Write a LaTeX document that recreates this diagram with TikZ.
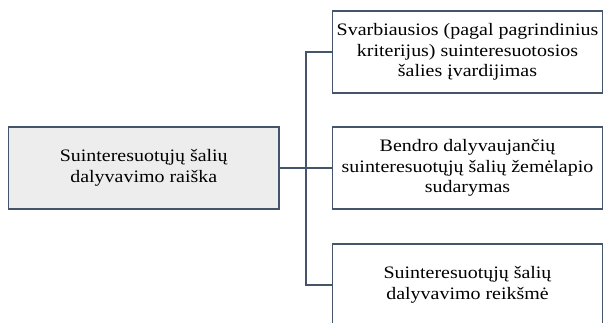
\documentclass[tikz,border=0pt]{standalone}
\usepackage{fontspec}
\setmainfont{Liberation Serif}[FakeStretch=1.14]
\definecolor{edge}{HTML}{44546A}
\definecolor{shade}{HTML}{EDEDED}
\newcommand{\boxfont}{\fontsize{17.5pt}{20.5pt}\selectfont}
\begin{document}
\begin{tikzpicture}[x=1pt,y=-1pt,
  box/.style={draw=edge, line width=1.4pt, rectangle, align=center,
    minimum width=269.5pt, minimum height=82pt, inner sep=1pt,
    font=\boxfont},
  link/.style={draw=edge, line width=1.4pt}]
  \useasboundingbox (0,0) rectangle (603,322);
  \clip (0,0) rectangle (603,322);
  % main topic on the left
  \node[box, fill=shade, minimum width=270.5pt] (L) at (143.75,168) {Suinteresuotųjų šalių\\dalyvavimo raiška};
  % three branches on the right
  \node[box] (B1) at (467.5,52) {Svarbiausios (pagal pagrindinius\\kriterijus) suinteresuotosios\\šalies įvardijimas};
  \node[box] (B2) at (467.5,168) {Bendro dalyvaujančių\\suinteresuotųjų šalių žemėlapio\\sudarymas};
  \node[box] (B3) at (467.5,285) {Suinteresuotųjų šalių\\dalyvavimo reikšmė};
  % bracket connectors
  \coordinate (trunk) at (306,168);
  \draw[link] (L.east) -- (B2.west);
  \draw[link] (B1.west) -| (trunk) |- (B3.west);
\end{tikzpicture}
\end{document}
